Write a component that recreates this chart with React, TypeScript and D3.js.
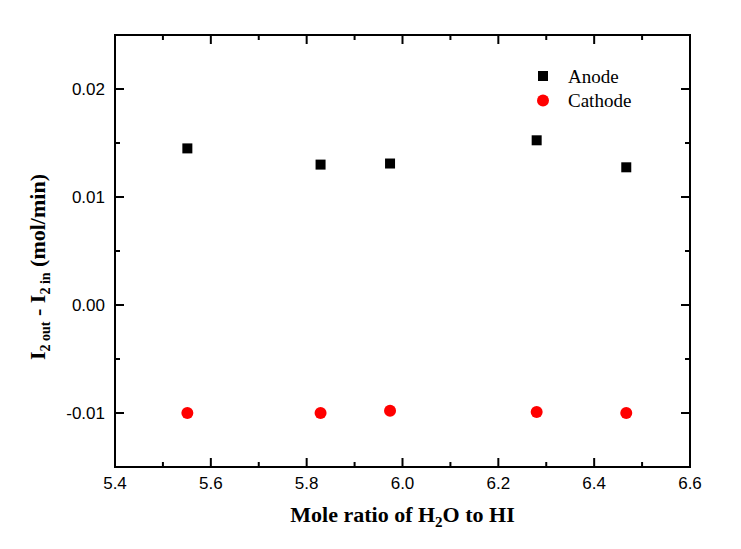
import React from "react";
import * as d3 from "d3";

const anodeX = [5.551, 5.829, 5.974, 6.28, 6.467];
const anodeY = [0.0145, 0.0130, 0.0131, 0.01525, 0.01275];
const cathodeX = [5.551, 5.829, 5.974, 6.28, 6.467];
const cathodeY = [-0.0100, -0.0100, -0.0098, -0.0099, -0.0100];
const xTicks = [5.4, 5.6, 5.8, 6.0, 6.2, 6.4, 6.6];
const xMinor = [5.5, 5.7, 5.9, 6.1, 6.3, 6.5];
const yTicks = [-0.01, 0.0, 0.01, 0.02];
const yMinor = [-0.005, 0.005, 0.015];
const seriesNames = ["Anode", "Cathode"];

const W = 741, H = 549;
const L = 115, R = 690, T = 35, B = 467;

export default function App() {
  const x = d3.scaleLinear().domain([5.4, 6.6]).range([L, R]);
  const y = d3.scaleLinear().domain([-0.015, 0.025]).range([B, T]);
  const fmtY = (v: number) => (Math.abs(v) < 1e-9 ? "0.00" : d3.format(".2f")(v).replace("\u2212", "-"));
  const sans = "'Liberation Sans', Arial, sans-serif";
  const serif = "'Liberation Serif', 'Times New Roman', serif";
  const maj = 9, mnr = 5;
  return (
    <svg width={W} height={H} style={{ position: "absolute", left: 0, top: 0, background: "#fff" }}>
      <rect x={0} y={0} width={W} height={H} fill="#fff" />
      {/* ticks */}
      <g stroke="#000" strokeWidth={2}>
        {xTicks.map((t, i) => (
          <g key={"xt" + i}>
            <line x1={x(t)} x2={x(t)} y1={B} y2={B - maj} />
            <line x1={x(t)} x2={x(t)} y1={T} y2={T + maj} />
          </g>
        ))}
        {xMinor.map((t, i) => (
          <g key={"xm" + i}>
            <line x1={x(t)} x2={x(t)} y1={B} y2={B - mnr} />
            <line x1={x(t)} x2={x(t)} y1={T} y2={T + mnr} />
          </g>
        ))}
        {yTicks.map((t, i) => (
          <g key={"yt" + i}>
            <line x1={L} x2={L + maj} y1={y(t)} y2={y(t)} />
            <line x1={R} x2={R - maj} y1={y(t)} y2={y(t)} />
          </g>
        ))}
        {yMinor.map((t, i) => (
          <g key={"ym" + i}>
            <line x1={L} x2={L + mnr} y1={y(t)} y2={y(t)} />
            <line x1={R} x2={R - mnr} y1={y(t)} y2={y(t)} />
          </g>
        ))}
      </g>
      <rect x={L} y={T} width={R - L} height={B - T} fill="none" stroke="#000" strokeWidth={2} />
      {/* tick labels */}
      {xTicks.map((t, i) => (
        <text key={"xl" + i} x={x(t)} y={B + 22} textAnchor="middle" fontFamily={sans} fontSize={17} fill="#000">
          {d3.format(".1f")(t)}
        </text>
      ))}
      {yTicks.map((t, i) => (
        <text key={"yl" + i} x={L - 10} y={y(t) + 6} textAnchor="end" fontFamily={sans} fontSize={17} fill="#000">
          {fmtY(t)}
        </text>
      ))}
      {/* data */}
      {anodeX.map((v, i) => (
        <rect key={"a" + i} x={x(v) - 5} y={y(anodeY[i]) - 5} width={10} height={10} fill="#000" />
      ))}
      {cathodeX.map((v, i) => (
        <circle key={"c" + i} cx={x(v)} cy={y(cathodeY[i])} r={6} fill="#ff0000" />
      ))}
      {/* legend */}
      <rect x={538} y={71} width={10} height={10} fill="#000" />
      <text x={568} y={83} fontFamily={serif} fontSize={19} fill="#000">{seriesNames[0]}</text>
      <circle cx={543} cy={100.5} r={6} fill="#ff0000" />
      <text x={568} y={107} fontFamily={serif} fontSize={19} fill="#000">{seriesNames[1]}</text>
      {/* axis titles */}
      <text x={(L + R) / 2} y={522} textAnchor="middle" fontFamily={serif} fontWeight="bold" fontSize={22} fill="#000">
        Mole ratio of H<tspan dy={5} fontSize={15}>2</tspan><tspan dy={-5}>O to HI</tspan>
      </text>
      <text transform={`translate(45, ${(T + B) / 2 + 16}) rotate(-90)`} textAnchor="middle" fontFamily={serif} fontWeight="bold" fontSize={22} fill="#000">
        I<tspan dy={5} fontSize={14}>2 out</tspan><tspan dy={-5}> - I</tspan><tspan dy={5} fontSize={14}>2 in</tspan><tspan dy={-5}> (mol/min)</tspan>
      </text>
    </svg>
  );
}
